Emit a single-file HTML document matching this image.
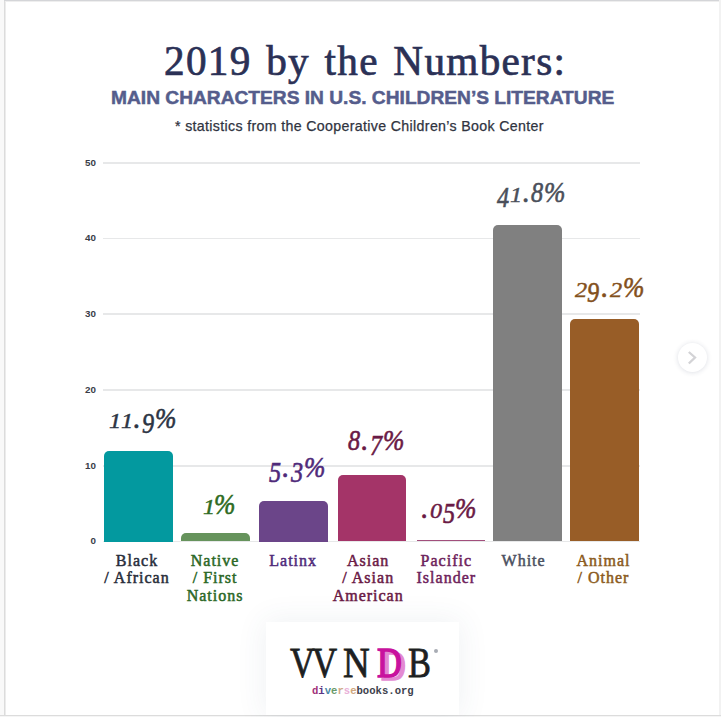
<!DOCTYPE html>
<html><head><meta charset="utf-8">
<style>
html,body{margin:0;padding:0;}
body{width:721px;height:717px;overflow:hidden;background:#fff;position:relative;font-family:"Liberation Serif",serif;}
.a{position:absolute;white-space:nowrap;line-height:1;}
.r{position:absolute;}
</style></head><body>

<div class="r" style="left:0;top:0;width:4px;height:717px;background:#f9f9f9"></div>
<div class="r" style="left:4px;top:0;width:1px;height:717px;background:#dcdcdc"></div>
<div class="r" style="left:5px;top:0;width:1px;height:717px;background:#ececec"></div>
<div class="r" style="left:4px;top:0;width:717px;height:1px;background:#d4d5d8"></div>
<div class="r" style="left:5px;top:1px;width:716px;height:1px;background:#eeeeee"></div>
<div class="r" style="left:719px;top:0;width:2px;height:717px;background:#f2f2f2"></div>
<div class="r" style="left:0;top:715px;width:721px;height:1px;background:#dcdcdc"></div>
<div class="r" style="left:0;top:716px;width:721px;height:1px;background:#f5f5f5"></div>
<div class="a" style="left:164px;top:40.8px;font-size:41.2px;color:#2b3156;letter-spacing:1.3px;word-spacing:3px;-webkit-text-stroke:0.7px #2b3156">2019 by the Numbers:</div>
<div class="a" style="left:111px;top:88.8px;font-family:'Liberation Sans',sans-serif;font-weight:bold;font-size:18.5px;color:#555d8c;letter-spacing:0px;transform:scaleX(1.036);transform-origin:0 0;-webkit-text-stroke:0.5px #555d8c">MAIN CHARACTERS IN U.S. CHILDREN’S LITERATURE</div>
<div class="a" style="left:175px;top:119px;font-family:'Liberation Sans',sans-serif;font-size:14.2px;color:#30343f;letter-spacing:0.34px;-webkit-text-stroke:0.25px #30343f">* statistics from the Cooperative Children’s Book Center</div>
<div class="r" style="left:103px;top:162.0px;width:536.5px;height:1.8px;background:#e7e8e9"></div>
<div class="a" style="left:66px;top:157.7px;width:30px;text-align:right;font-family:'Liberation Sans',sans-serif;font-weight:bold;font-size:9.8px;color:#3a3d48">50</div>
<div class="r" style="left:103px;top:237.7px;width:536.5px;height:1.8px;background:#e7e8e9"></div>
<div class="a" style="left:66px;top:233.39999999999998px;width:30px;text-align:right;font-family:'Liberation Sans',sans-serif;font-weight:bold;font-size:9.8px;color:#3a3d48">40</div>
<div class="r" style="left:103px;top:313.4px;width:536.5px;height:1.8px;background:#e7e8e9"></div>
<div class="a" style="left:66px;top:309.09999999999997px;width:30px;text-align:right;font-family:'Liberation Sans',sans-serif;font-weight:bold;font-size:9.8px;color:#3a3d48">30</div>
<div class="r" style="left:103px;top:389.1px;width:536.5px;height:1.8px;background:#e7e8e9"></div>
<div class="a" style="left:66px;top:384.8px;width:30px;text-align:right;font-family:'Liberation Sans',sans-serif;font-weight:bold;font-size:9.8px;color:#3a3d48">20</div>
<div class="r" style="left:103px;top:464.8px;width:536.5px;height:1.8px;background:#e7e8e9"></div>
<div class="a" style="left:66px;top:460.5px;width:30px;text-align:right;font-family:'Liberation Sans',sans-serif;font-weight:bold;font-size:9.8px;color:#3a3d48">10</div>
<div class="r" style="left:103px;top:540.5px;width:536.5px;height:1.8px;background:#e7e8e9"></div>
<div class="a" style="left:66px;top:536.2px;width:30px;text-align:right;font-family:'Liberation Sans',sans-serif;font-weight:bold;font-size:9.8px;color:#3a3d48">0</div>
<div class="r" style="left:103.5px;top:451px;width:69.2px;height:90.50px;background:#03999f;border-radius:5px 5px 0 0"></div>
<div class="r" style="left:181.4px;top:533.2px;width:68.9px;height:8.30px;background:#66935c;border-radius:5px 5px 0 0"></div>
<div class="r" style="left:259.4px;top:501px;width:68.4px;height:40.50px;background:#6b4589;border-radius:5px 5px 0 0"></div>
<div class="r" style="left:337.6px;top:475.4px;width:68.0px;height:66.10px;background:#a43468;border-radius:5px 5px 0 0"></div>
<div class="r" style="left:416.5px;top:539.9px;width:68px;height:1.60px;background:#a24f7c;border-radius:0px 0px 0 0"></div>
<div class="r" style="left:493px;top:224.8px;width:69px;height:316.70px;background:#808080;border-radius:5px 5px 0 0"></div>
<div class="r" style="left:570.1px;top:319.2px;width:69.3px;height:222.30px;background:#985d27;border-radius:5px 5px 0 0"></div>
<div class="a" style="left:82px;top:404.91px;width:120px;text-align:center;font-style:italic;font-size:28.5px;color:#2c3444;letter-spacing:-1.5px;-webkit-text-stroke:0.6px #2c3444"><span style="display:inline-block;margin-right:-1px;transform:scale(0.85,0.72);transform-origin:50% 24.5px">1</span><span style="display:inline-block;margin-right:-1px;transform:scale(0.85,0.72);transform-origin:50% 24.5px">1</span><span style="margin:0 2px">.</span><span style="display:inline-block;transform:translateY(5px) scaleX(0.85)">9</span><span style="display:inline-block;transform:scaleX(0.9)">%</span></div>
<div class="a" style="left:158.5px;top:490.51px;width:120px;text-align:center;font-style:italic;font-size:28.5px;color:#2e6b22;letter-spacing:-1.5px;-webkit-text-stroke:0.6px #2e6b22"><span style="display:inline-block;margin-right:-1px;transform:scale(0.85,0.72);transform-origin:50% 24.5px">1</span><span style="display:inline-block;transform:scaleX(0.9)">%</span></div>
<div class="a" style="left:236.3px;top:454.01px;width:120px;text-align:center;font-style:italic;font-size:28.5px;color:#4f2a7a;letter-spacing:-1.5px;-webkit-text-stroke:0.6px #4f2a7a"><span style="display:inline-block;transform:translateY(5px) scaleX(0.85)">5</span><span style="margin:0 2px">.</span><span style="display:inline-block;transform:translateY(5px) scaleX(0.85)">3</span><span style="display:inline-block;transform:scaleX(0.9)">%</span></div>
<div class="a" style="left:315.3px;top:426.91px;width:120px;text-align:center;font-style:italic;font-size:28.5px;color:#6a1a45;letter-spacing:-1.5px;-webkit-text-stroke:0.6px #6a1a45"><span style="display:inline-block;transform:scaleX(0.85)">8</span><span style="margin:0 2px">.</span><span style="display:inline-block;transform:translateY(5px) scaleX(0.85)">7</span><span style="display:inline-block;transform:scaleX(0.9)">%</span></div>
<div class="a" style="left:388px;top:494.91px;width:120px;text-align:center;font-style:italic;font-size:28.5px;color:#6a1a45;letter-spacing:-1.5px;-webkit-text-stroke:0.6px #6a1a45"><span style="margin:0 2px">.</span><span style="display:inline-block;margin-right:0px;transform:scale(0.85,0.72);transform-origin:50% 24.5px">0</span><span style="display:inline-block;transform:translateY(5px) scaleX(0.85)">5</span><span style="display:inline-block;transform:scaleX(0.9)">%</span></div>
<div class="a" style="left:470.79999999999995px;top:179.21px;width:120px;text-align:center;font-style:italic;font-size:28.5px;color:#4a4f5a;letter-spacing:-1.5px;-webkit-text-stroke:0.6px #4a4f5a"><span style="display:inline-block;transform:translateY(5px) scaleX(0.85)">4</span><span style="display:inline-block;margin-right:-1px;transform:scale(0.85,0.72);transform-origin:50% 24.5px">1</span><span style="margin:0 2px">.</span><span style="display:inline-block;transform:scaleX(0.85)">8</span><span style="display:inline-block;transform:scaleX(0.9)">%</span></div>
<div class="a" style="left:548.8px;top:273.61px;width:120px;text-align:center;font-style:italic;font-size:28.5px;color:#83501c;letter-spacing:-1.5px;-webkit-text-stroke:0.6px #83501c"><span style="display:inline-block;margin-right:0px;transform:scale(0.85,0.72);transform-origin:50% 24.5px">2</span><span style="display:inline-block;transform:translateY(5px) scaleX(0.85)">9</span><span style="margin:0 2px">.</span><span style="display:inline-block;margin-right:0px;transform:scale(0.85,0.72);transform-origin:50% 24.5px">2</span><span style="display:inline-block;transform:scaleX(0.9)">%</span></div>
<div class="a" style="left:77.0px;top:552.80px;width:120px;text-align:center;font-size:16px;color:#282d3a;letter-spacing:1.0px;-webkit-text-stroke:0.5px #282d3a">Black</div>
<div class="a" style="left:77.0px;top:570.40px;width:120px;text-align:center;font-size:16px;color:#282d3a;letter-spacing:1.0px;-webkit-text-stroke:0.5px #282d3a">/ African</div>
<div class="a" style="left:155.1px;top:552.80px;width:120px;text-align:center;font-size:16px;color:#2b6826;letter-spacing:1.0px;-webkit-text-stroke:0.5px #2b6826">Native</div>
<div class="a" style="left:155.1px;top:570.40px;width:120px;text-align:center;font-size:16px;color:#2b6826;letter-spacing:1.0px;-webkit-text-stroke:0.5px #2b6826">/ First</div>
<div class="a" style="left:155.1px;top:588.00px;width:120px;text-align:center;font-size:16px;color:#2b6826;letter-spacing:1.0px;-webkit-text-stroke:0.5px #2b6826">Nations</div>
<div class="a" style="left:233.2px;top:552.80px;width:120px;text-align:center;font-size:16px;color:#4f2a7a;letter-spacing:1.0px;-webkit-text-stroke:0.5px #4f2a7a">Latinx</div>
<div class="a" style="left:308.2px;top:552.80px;width:120px;text-align:center;font-size:16px;color:#6a1a45;letter-spacing:1.0px;-webkit-text-stroke:0.5px #6a1a45">Asian</div>
<div class="a" style="left:308.2px;top:570.40px;width:120px;text-align:center;font-size:16px;color:#6a1a45;letter-spacing:1.0px;-webkit-text-stroke:0.5px #6a1a45">/ Asian</div>
<div class="a" style="left:308.2px;top:588.00px;width:120px;text-align:center;font-size:16px;color:#6a1a45;letter-spacing:1.0px;-webkit-text-stroke:0.5px #6a1a45">American</div>
<div class="a" style="left:386.3px;top:552.80px;width:120px;text-align:center;font-size:16px;color:#6e1f5c;letter-spacing:1.0px;-webkit-text-stroke:0.5px #6e1f5c">Pacific</div>
<div class="a" style="left:386.3px;top:570.40px;width:120px;text-align:center;font-size:16px;color:#6e1f5c;letter-spacing:1.0px;-webkit-text-stroke:0.5px #6e1f5c">Islander</div>
<div class="a" style="left:463.6px;top:552.80px;width:120px;text-align:center;font-size:16px;color:#4b5060;letter-spacing:1.0px;-webkit-text-stroke:0.5px #4b5060">White</div>
<div class="a" style="left:543.5px;top:552.80px;width:120px;text-align:center;font-size:16px;color:#8b5a20;letter-spacing:1.0px;-webkit-text-stroke:0.5px #8b5a20">Animal</div>
<div class="a" style="left:543.5px;top:570.40px;width:120px;text-align:center;font-size:16px;color:#8b5a20;letter-spacing:1.0px;-webkit-text-stroke:0.5px #8b5a20">/ Other</div>
<div class="r" style="left:677.5px;top:343px;width:29px;height:29px;border-radius:50%;background:#fff;box-shadow:0 0.5px 5px rgba(40,50,90,0.16)"></div>
<svg class="r" style="left:677px;top:343px" width="29" height="29"><path d="M11.8 9 L18 14.5 L11.8 20.5" fill="none" stroke="#d3d3d6" stroke-width="2.3"/></svg>
<div class="r" style="left:265.5px;top:622px;width:193.5px;height:93px;background:#fff;box-shadow:0 0 28px 2px rgba(60,75,110,0.075)"></div>
<div class="a" style="left:289.5px;top:641px;font-family:'Liberation Serif';font-size:43px;font-weight:400;color:#1d1f22;transform:scaleX(0.8);transform-origin:0 0;-webkit-text-stroke:0.8px #1d1f22">V</div>
<div class="a" style="left:311.5px;top:641px;font-family:'Liberation Serif';font-size:43px;font-weight:400;color:#1d1f22;transform:scaleX(0.81);transform-origin:0 0;-webkit-text-stroke:0.8px #1d1f22">V</div>
<div class="a" style="left:343px;top:641px;font-family:'Liberation Serif';font-size:43px;font-weight:400;color:#1d1f22;transform:scaleX(0.86);transform-origin:0 0;-webkit-text-stroke:0.8px #1d1f22">N</div>
<div class="a" style="left:380.5px;top:643.5px;font-family:'Liberation Serif';font-size:43px;font-weight:400;color:#e38ad2;transform:scaleX(0.8);transform-origin:0 0;-webkit-text-stroke:1.6px #e38ad2">D</div>
<div class="a" style="left:376.5px;top:641px;font-family:'Liberation Serif';font-size:43px;font-weight:400;color:#c8129e;transform:scaleX(0.8);transform-origin:0 0;-webkit-text-stroke:1.6px #c8129e">D</div>
<div class="a" style="left:407.5px;top:641px;font-family:'Liberation Serif';font-size:43px;font-weight:400;color:#1d1f22;transform:scaleX(0.8);transform-origin:0 0;-webkit-text-stroke:0.8px #1d1f22">B</div>
<div class="r" style="left:433.5px;top:649px;width:4px;height:4px;border-radius:50%;background:#a8acb4"></div>
<div class="a" style="left:312px;top:686px;font-family:'Liberation Mono',monospace;font-weight:bold;font-size:10.6px;color:#3d414c"><span style="color:#a0307a">d</span><span style="color:#5a3585">i</span><span style="color:#4a8aa8">v</span><span style="color:#6a9a6a">e</span><span style="color:#cfa888">r</span><span style="color:#eab0d8">s</span><span style="color:#d0a880">e</span>books.org</div>
</body></html>
